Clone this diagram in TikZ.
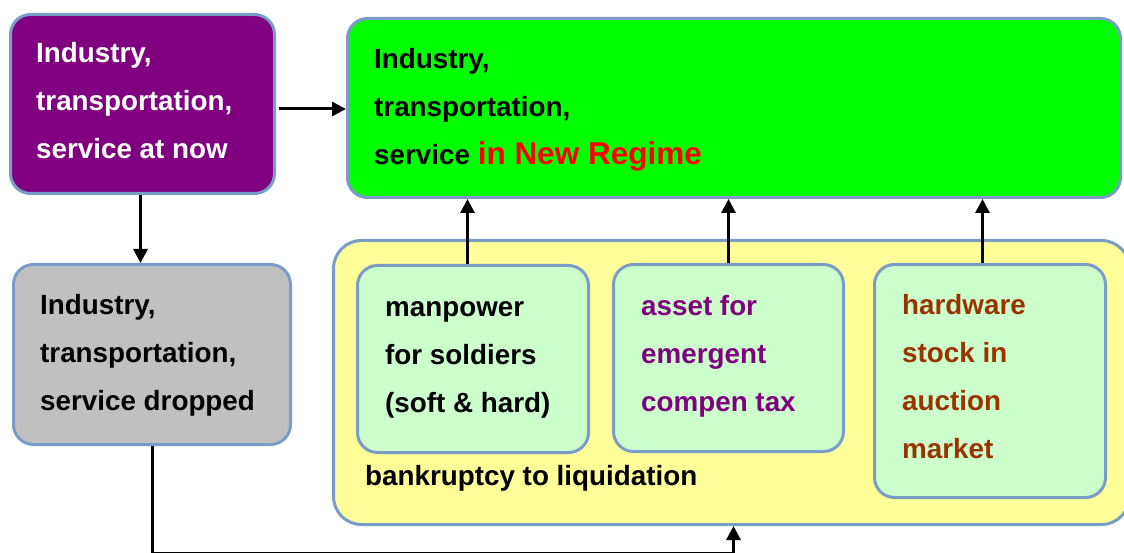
\documentclass[tikz,border=0pt]{standalone}
\usepackage{fontspec}
\setmainfont{Liberation Sans}
\usetikzlibrary{arrows.meta,calc}
\definecolor{bord}{HTML}{7A9CC6}
\definecolor{purp}{HTML}{800080}
\definecolor{lgreen}{HTML}{CCFFCC}
\definecolor{yel}{HTML}{FFFF99}
\definecolor{gry}{HTML}{C0C0C0}
\definecolor{brn}{HTML}{993300}
\begin{document}
\begin{tikzpicture}[x=1pt,y=-1pt,
  box/.style={draw=bord,line width=3pt,rounded corners=20pt,inner sep=0pt,anchor=north west},
  txt/.style={anchor=base west,align=left,inner sep=0pt,font=\fontsize{27.8}{48}\selectfont\bfseries},
  arr/.style={draw=black,line width=3pt,-{Triangle[length=14pt,width=14pt]}}]
\clip (0,0) rectangle (1124,553);
\useasboundingbox (0,0) rectangle (1124,553);
\fill[white] (0,0) rectangle (1124,553);
% boxes
\node[box,fill=purp,minimum width=264,minimum height=179] (pb) at (9,13) {};
\node[box,fill=green,minimum width=773,minimum height=179] (gb) at (346,17) {};
\node[box,fill=gry,minimum width=277,minimum height=180] (gr) at (12,263) {};
\node[box,fill=yel,minimum width=796,minimum height=284,rounded corners=28pt] (yb) at (332,239) {};
\node[box,fill=lgreen,minimum width=231,minimum height=187] (b1) at (356,264) {};
\node[box,fill=lgreen,minimum width=230,minimum height=187] (b2) at (612,263) {};
\node[box,fill=lgreen,minimum width=231,minimum height=233] (b3) at (873,263) {};
% texts (base anchor = last line baseline)
\node[txt,text=white] (tp) at (36,159) {Industry,\\transportation,\\service at now};
\node[txt] (tg) at (374,165) {Industry,\\transportation,\\service \textcolor{red}{\fontsize{31.5}{48}\selectfont in New Regime}};
\node[txt] (tr) at (40,410) {Industry,\\transportation,\\service dropped};
\node[txt] (t1) at (385,412) {manpower\\for soldiers\\(soft \& hard)};
\node[txt,text=purp] (t2) at (641,411) {asset for\\emergent\\compen tax};
\node[txt,text=brn] (t3) at (902,458) {hardware\\stock in\\auction\\market};
\node[txt] (ty) at (365,485) {bankruptcy to liquidation};
% connector end points
\coordinate (pa) at ($(pb.east)+(3,5)$);
\coordinate (pd) at ($(pb.south)+(-2,0)$);
\coordinate (s1) at ($(b1.north)+(-5.5,0)$);
\coordinate (s3) at ($(b3.north)+(-7.5,0)$);
\coordinate (yin) at ($(yb.south)+(2,0)$);
% connectors
\draw[arr] (pa) -- (pa -| gb.west);
\draw[arr] (pd) -- (pd |- gr.north);
\draw[arr] (s1) -- (s1 |- gb.south);
\draw[arr] (b2.north) -- (b2.north |- gb.south);
\draw[arr] (s3) -- (s3 |- gb.south);
\draw[arr] (gr.south) -- ++(0,107) -| (yin);
\end{tikzpicture}
\end{document}
